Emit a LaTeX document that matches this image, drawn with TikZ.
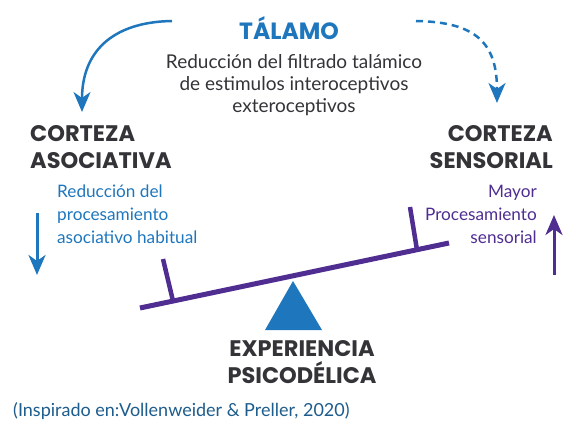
\documentclass[tikz,border=0pt]{standalone}
\usepackage{fontspec}
\setmainfont{Lato}
\newfontfamily\headfont{Poppins}
\usetikzlibrary{arrows.meta}
\usetikzlibrary{calc}
\usetikzlibrary{positioning}

\definecolor{txtgray}{HTML}{333338}
\definecolor{thalblue}{HTML}{1E76BD}
\definecolor{senspurple}{HTML}{4F2D91}
\definecolor{citeblue}{HTML}{1D5C8C}

\begin{document}
\begin{tikzpicture}[x=1pt,y=1pt,
    head/.style={font=\headfont\bfseries\fontsize{22.5}{27}\selectfont,text=txtgray,inner sep=0pt},
    body/.style={font=\fontsize{19}{22}\selectfont,text=txtgray,inner sep=0pt},
    side/.style={font=\fontsize{17.2}{23}\selectfont,inner sep=0pt},
    arcarrow/.style={line width=2.5pt,-{Stealth[length=20pt,width=17pt,inset=6pt]}},
    liftarrow/.style={line width=3pt,-{Stealth[length=20pt,width=17pt,inset=6pt]}}]

  \useasboundingbox (0,0) rectangle (578,434);

  \node [head,text=thalblue,font=\headfont\bfseries\fontsize{23.5}{27}\selectfont] (thal) at (289,406) {TÁLAMO};
  \node [body,align=center] (filt) at (294,349) {Reducción del filtrado talámico\\de estimulos interoceptivos\\exteroceptivos};

  \node [head,align=left,anchor=west] (assoc) at (30,287) {CORTEZA\\ASOCIATIVA};
  \node [head,align=right,anchor=east] (sens) at (553,287) {CORTEZA\\SENSORIAL};

  \node [side,text=thalblue,align=left,anchor=west] (reduc) at (57,220) {Reducción del\\procesamiento\\asociativo habitual};
  \node [side,text=senspurple,align=right,anchor=east] (mayor) at (537,220) {Mayor\\Procesamiento\\sensorial};

  \node [head,align=center] (exp) at (302,72) {EXPERIENCIA\\PSICODÉLICA};
  \node [side,text=citeblue,anchor=west,font=\fontsize{18}{23}\selectfont] (cite) at (13,23) {(Inspirado en:Vollenweider \& Preller, 2020)};

  \coordinate (thalL) at (172,413);
  \coordinate (assocT) at (82,322);
  \coordinate (thalR) at (416,413);
  \coordinate (sensT) at (497,331);
  \coordinate (downS) at (37,221);
  \coordinate (downE) at (37,159);
  \coordinate (upS) at (554,159);
  \coordinate (upE) at (554,219);

  \draw [arcarrow,thalblue] (thalL) .. controls +(-60,-1) and +(0,60) .. (assocT);
  \draw [arcarrow,thalblue,dash pattern=on 7pt off 5pt] (thalR) .. controls +(60,-1) and +(0,60) .. (sensT);
  \draw [liftarrow,thalblue] (downS) -- (downE);
  \draw [liftarrow,senspurple] (upS) -- (upE);

  \coordinate (beamL) at (140,126);
  \coordinate (beamR) at (449,191);
  \draw [senspurple,line width=5pt] (beamL) -- (beamR);
  \draw [senspurple,line width=4.5pt] (163,175) -- (173,133);
  \draw [senspurple,line width=4.5pt] (410,227) -- (417,184);
  \fill [thalblue] (293,153) -- (322,104) -- (265,104) -- cycle;

\end{tikzpicture}
\end{document}
